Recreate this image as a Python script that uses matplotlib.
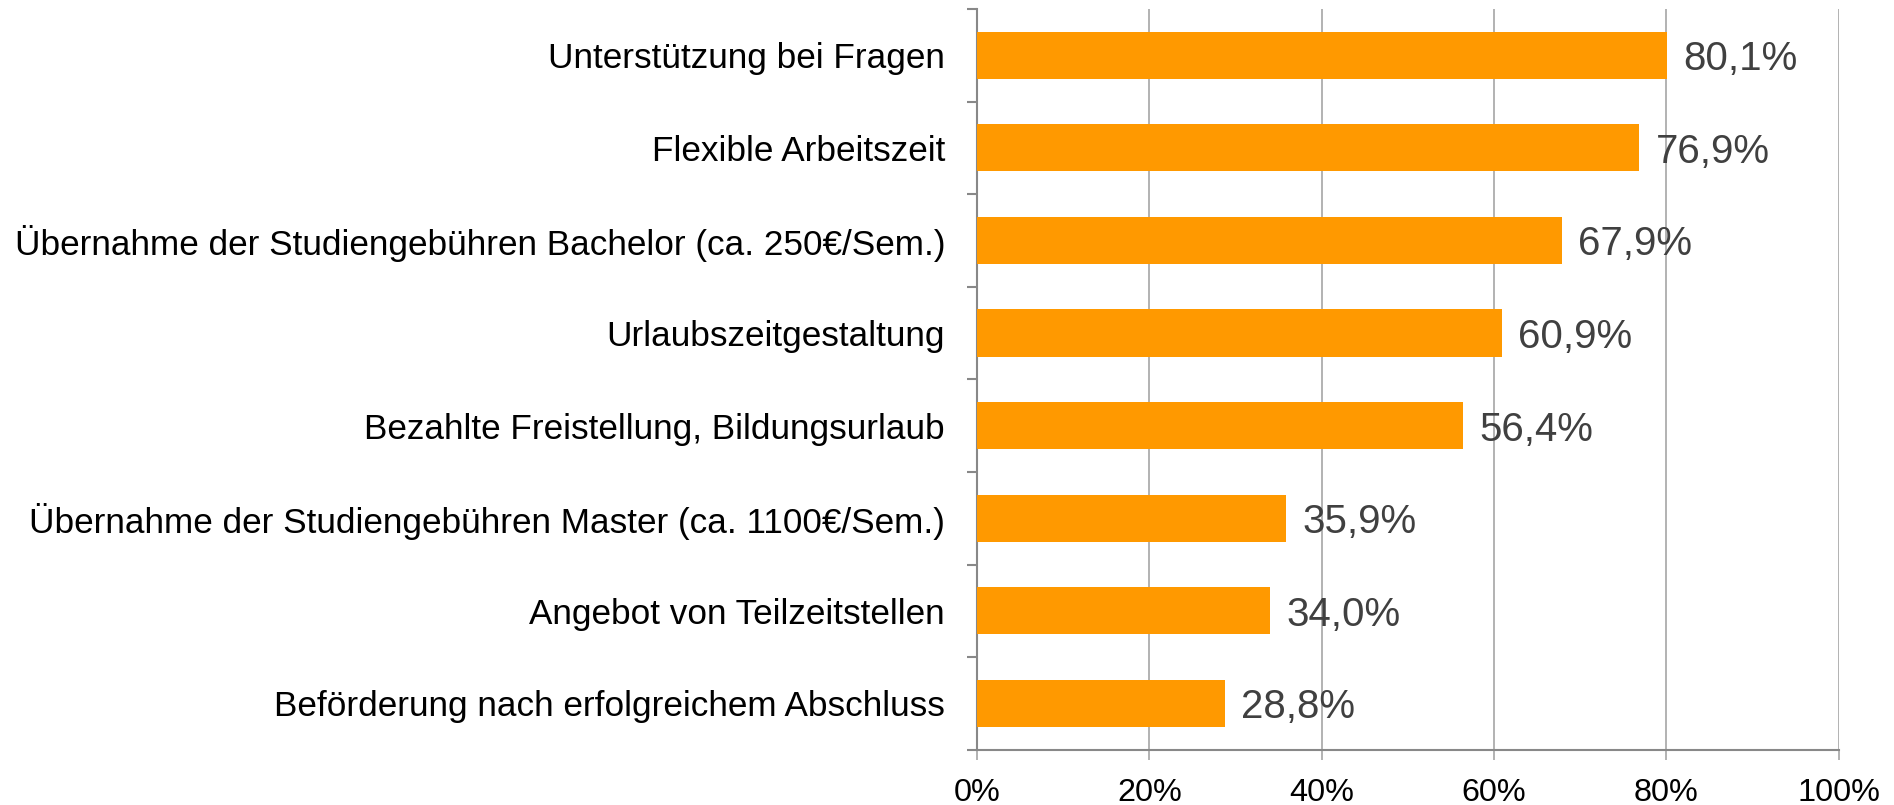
import matplotlib
matplotlib.use("Agg")
import matplotlib.pyplot as plt
from matplotlib.ticker import FixedLocator, FuncFormatter

plt.rcParams['font.family'] = ['Liberation Sans', 'DejaVu Sans']

categories = [
    "Unterstützung bei Fragen",
    "Flexible Arbeitszeit",
    "Übernahme der Studiengebühren Bachelor (ca. 250€/Sem.)",
    "Urlaubszeitgestaltung",
    "Bezahlte Freistellung, Bildungsurlaub",
    "Übernahme der Studiengebühren Master (ca. 1100€/Sem.)",
    "Angebot von Teilzeitstellen",
    "Beförderung nach erfolgreichem Abschluss",
]
values = [80.1, 76.9, 67.9, 60.9, 56.4, 35.9, 34.0, 28.8]
x_ticks = [0, 20, 40, 60, 80, 100]

W, H = 1894, 805
fig = plt.figure(figsize=(W / 100, H / 100), dpi=100)
left, right, top, bottom = 977, 1838.5, 9, 749.7
ax = fig.add_axes([left / W, 1 - bottom / H, (right - left) / W, (bottom - top) / H])

n = len(categories)
ypos = list(range(n - 1, -1, -1))
ax.barh(ypos, values, height=0.51, color="#FF9900", zorder=3)
ax.set_xlim(0, 100)
ax.set_ylim(-0.5, n - 0.5)

grid_c = "#A6A6A6"
axis_c = "#888888"
for t in x_ticks[1:]:
    ax.axvline(t, color=grid_c, lw=1.2, zorder=1)

for s in ["top", "right"]:
    ax.spines[s].set_visible(False)
ax.spines["left"].set_color(axis_c)
ax.spines["bottom"].set_color(axis_c)
ax.spines["left"].set_linewidth(1.5)
ax.spines["bottom"].set_linewidth(1.5)

ax.xaxis.set_major_locator(FixedLocator(x_ticks))
ax.xaxis.set_major_formatter(FuncFormatter(lambda v, p: f"{int(v)}%"))
ax.tick_params(axis="x", length=7.5, width=1.2, color=grid_c, labelsize=23.3, pad=13, labelcolor="black")

ax.set_yticks(ypos)
ax.set_yticklabels(categories, fontsize=25.3)
ax.yaxis.set_minor_locator(FixedLocator([i + 0.5 for i in range(-1, n)]))
ax.tick_params(axis="y", which="major", length=0, pad=23, labelcolor="black")
ax.tick_params(axis="y", which="minor", length=7.5, width=1.5, color=axis_c)

for y, v in zip(ypos, values):
    ax.text(v + 1.9, y, f"{v:.1f}%".replace(".", ","), va="center_baseline", ha="left",
            fontsize=29, color="#404040", zorder=4)

fig.savefig("out.png", dpi=100)
